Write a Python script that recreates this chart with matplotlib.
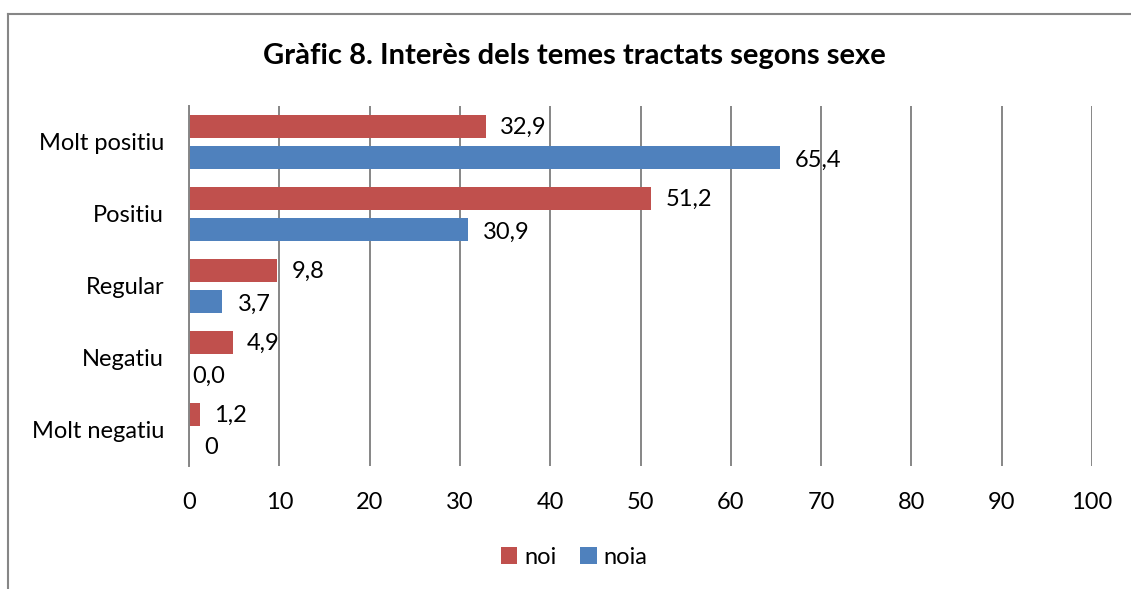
import matplotlib
matplotlib.use("Agg")
import numpy as np
import matplotlib.pyplot as plt
from matplotlib.lines import Line2D

plt.rcParams['font.family'] = ['Lato', 'DejaVu Sans']

categories = ["Molt positiu", "Positiu", "Regular", "Negatiu", "Molt negatiu"]
noi = [32.9, 51.2, 9.8, 4.9, 1.2]
noia = [65.4, 30.9, 3.7, 0.0, 0.0]
noi_labels = ["32,9", "51,2", "9,8", "4,9", "1,2"]
noia_labels = ["65,4", "30,9", "3,7", "0,0", "0"]
xticks = [0, 10, 20, 30, 40, 50, 60, 70, 80, 90, 100]

red = "#C0504D"
blue = "#4F81BD"
grid = "#868686"
fs = 17

fig = plt.figure(figsize=(11.31, 5.89), dpi=100)
ax = fig.add_axes([189 / 1131, 1 - 466 / 589, (1092 - 189) / 1131, (466 - 106) / 589])

y = np.arange(len(categories))
h = 0.32
b1 = ax.barh(y - 0.21, noi, height=h, color=red, label="noi")
b2 = ax.barh(y + 0.21, noia, height=h, color=blue, label="noia")

for bar, txt in zip(b1, noi_labels):
    ax.annotate(txt, (bar.get_width(), bar.get_y() + bar.get_height() / 2),
                xytext=(10, 0), textcoords="offset points",
                va="center", ha="left", fontsize=fs)
for bar, txt in zip(b2, noia_labels):
    off = 11 if bar.get_width() > 0 else (2 if len(txt) > 1 else 11)
    ax.annotate(txt, (bar.get_width(), bar.get_y() + bar.get_height() / 2),
                xytext=(off, -2), textcoords="offset points",
                va="center", ha="left", fontsize=fs)

ax.set_xlim(0, 100)
ax.set_ylim(4.5, -0.5)
ax.set_xticks(xticks)
ax.set_yticks(y)
ax.set_yticklabels(categories)
ax.tick_params(axis="both", length=0, labelsize=fs)
ax.tick_params(axis="x", pad=19)
ax.tick_params(axis="y", pad=18)
ax.xaxis.grid(True, color=grid, linewidth=1.4)
ax.set_axisbelow(True)
for s in ["top", "right", "bottom"]:
    ax.spines[s].set_visible(False)
ax.spines["left"].set_color(grid)
ax.spines["left"].set_linewidth(1.4)

fig.text(574 / 1131, 1 - 56 / 589, "Gràfic 8. Interès dels temes tractats segons sexe",
         ha="center", va="center", fontsize=21, fontweight="bold")

fig.legend(handles=[b1, b2], loc="center", bbox_to_anchor=(574 / 1131, 1 - 557 / 589),
           ncol=2, frameon=False, fontsize=fs, handlelength=0.7, handleheight=0.7,
           handletextpad=0.3, columnspacing=1.0)

# chart border (cropped: only left and top edges visible)
fig.add_artist(Line2D([8 / 1131, 8 / 1131], [0, 1 - 14 / 589], color=grid, linewidth=1.5))
fig.add_artist(Line2D([8 / 1131, 1], [1 - 14 / 589, 1 - 14 / 589], color=grid, linewidth=1.5))

fig.savefig("out.png", dpi=100)
